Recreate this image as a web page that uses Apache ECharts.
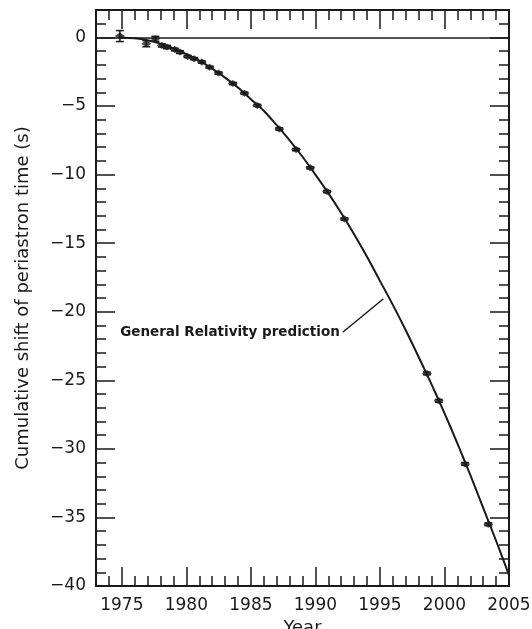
<!DOCTYPE html>
<html>
<head>
<meta charset="utf-8">
<script src="https://cdn.jsdelivr.net/npm/echarts@6/dist/echarts.min.js"></script>
<style>
html,body{margin:0;padding:0;background:#fff;}
#main{width:532px;height:629px;}
</style>
</head>
<body>
<div id="main"></div>
<script>
// measured timing points (year, shift in s, error bar half height)
var obsYears  = [1974.85, 1976.9, 1977.6, 1978.1, 1978.5, 1979.1, 1979.5, 1980.1, 1980.6, 1981.2, 1981.8, 1982.5,
                 1983.6, 1984.5, 1985.5, 1987.2, 1988.5, 1989.6, 1990.9, 1992.25, 1998.64, 1999.56, 2001.6, 2003.4];
var obsShift  = [0.1, -0.46, -0.1, -0.58, -0.7, -0.88, -1.07, -1.39, -1.55, -1.8, -2.17, -2.6,
                 -3.36, -4.07, -4.96, -6.67, -8.18, -9.51, -11.24, -13.24, -24.5, -26.5, -31.1, -35.5];
var obsErr    = [0.4, 0.22, 0.18, 0.12, 0.12, 0.1, 0.1, 0.08, 0.08, 0.08, 0.08, 0.08,
                 0.08, 0.08, 0.08, 0.08, 0.08, 0.08, 0.08, 0.08, 0.1, 0.1, 0.1, 0.1];

// general relativity prediction
var grYears = [1974.8, 1976, 1977, 1978, 1979, 1980, 1981, 1982, 1983, 1984, 1985, 1986, 1987, 1988, 1989, 1990,
               1991, 1992, 1993, 1994, 1995, 1996, 1997, 1998, 1999, 2000, 2001, 2002, 2003, 2004, 2005];
var grShift = [0, -0.06, -0.2, -0.45, -0.8, -1.22, -1.7, -2.28, -2.93, -3.65, -4.5, -5.35, -6.4, -7.5, -8.7, -10.0,
               -11.35, -12.8, -14.35, -16.0, -17.75, -19.5, -21.35, -23.3, -25.3, -27.4, -29.6, -31.9, -34.3, -36.7, -39.2];

var majorYears = [1975, 1980, 1985, 1990, 1995, 2000, 2005];
var majorShift = [-40, -35, -30, -25, -20, -15, -10, -5, 0];

var labelText = 'General Relativity prediction';
var pointerFrom = [1992.12, -21.5];
var pointerTo = [1995.25, -19.07];

var ink = '#1a1a1a';
var fontFam = 'DejaVu Sans';

function xAx(pos, major, withLabels) {
    var a = {
        type: 'value', position: pos, min: 1973, max: 2005,
        axisLine: {show: !major, onZero: false, lineStyle: {color: ink, width: 2}},
        axisTick: {show: true, inside: true, length: major ? 19 : 10, lineStyle: {color: ink, width: 1.5}},
        axisLabel: {show: false},
        splitLine: {show: false}
    };
    if (major) {
        a.axisTick.customValues = majorYears;
    } else {
        a.interval = 1;
    }
    if (withLabels) {
        a.axisLabel = {
            show: true, customValues: majorYears, color: ink, fontFamily: fontFam, fontSize: 17, margin: 11,
            formatter: function (v) { return String(v); }
        };
        a.name = 'Year';
        a.nameLocation = 'middle';
        a.nameGap = 29;
        a.nameTextStyle = {color: ink, fontFamily: fontFam, fontSize: 18};
    }
    return a;
}

function yAx(pos, major, withLabels) {
    var a = {
        type: 'value', position: pos, min: -40, max: 2,
        interval: major ? 5 : 1,
        axisLine: {show: !major, onZero: false, lineStyle: {color: ink, width: 2}},
        axisTick: {show: true, inside: true, length: major ? 19 : 10, lineStyle: {color: ink, width: 1.5}},
        axisLabel: {show: false},
        splitLine: {show: false}
    };
    if (major) {
        a.axisTick.customValues = majorShift;
    }
    if (withLabels) {
        a.axisLabel = {
            show: true, color: ink, fontFamily: fontFam, fontSize: 17, margin: 10,
            customValues: majorShift,
            formatter: function (v) {
                return v < 0 ? '\u2212' + (-v) : String(v);
            }
        };
        a.name = 'Cumulative shift of periastron time (s)';
        a.nameLocation = 'middle';
        a.nameGap = 64;
        a.nameTextStyle = {color: ink, fontFamily: fontFam, fontSize: 18};
    }
    return a;
}

var errData = [];
var obsData = [];
for (var i = 0; i < obsYears.length; i++) {
    errData.push([obsYears[i], obsShift[i] - obsErr[i], obsShift[i] + obsErr[i]]);
    obsData.push([obsYears[i], obsShift[i]]);
}
var grData = [];
for (var j = 0; j < grYears.length; j++) {
    grData.push([grYears[j], grShift[j]]);
}

var myChart = echarts.init(document.getElementById('main'));

var option = {
    backgroundColor: '#fff',
    animation: false,
    grid: {left: 96, right: 23, top: 10, bottom: 43, containLabel: false, outerBoundsMode: 'none'},
    xAxis: [xAx('bottom', false, true), xAx('bottom', true, false), xAx('top', false, false), xAx('top', true, false)],
    yAxis: [yAx('left', false, true), yAx('left', true, false), yAx('right', false, false), yAx('right', true, false)],
    series: [
        {
            name: 'GR',
            type: 'line',
            data: grData,
            smooth: 0.3,
            showSymbol: false,
            lineStyle: {color: ink, width: 2},
            z: 3,
            markLine: {
                silent: true,
                symbol: ['none', 'none'],
                label: {show: false},
                lineStyle: {color: ink, width: 1.5, type: 'solid'},
                data: [
                    {yAxis: 0},
                    [{coord: pointerFrom}, {coord: pointerTo}]
                ]
            }
        },
        {
            name: 'err',
            type: 'custom',
            data: errData,
            renderItem: function (params, api) {
                var lo = api.coord([api.value(0), api.value(1)]);
                var hi = api.coord([api.value(0), api.value(2)]);
                var w = 4;
                return {
                    type: 'group',
                    children: [
                        {type: 'line', shape: {x1: lo[0], y1: lo[1], x2: hi[0], y2: hi[1]}, style: {stroke: ink, lineWidth: 1.5}},
                        {type: 'line', shape: {x1: lo[0] - w, y1: lo[1], x2: lo[0] + w, y2: lo[1]}, style: {stroke: ink, lineWidth: 1.5}},
                        {type: 'line', shape: {x1: hi[0] - w, y1: hi[1], x2: hi[0] + w, y2: hi[1]}, style: {stroke: ink, lineWidth: 1.5}}
                    ]
                };
            },
            z: 4
        },
        {
            name: 'obs',
            type: 'scatter',
            data: obsData,
            symbol: 'diamond',
            symbolSize: [10, 7],
            itemStyle: {color: ink},
            z: 5
        }
    ]
};
myChart.setOption(option);

// annotation text placed at the pointer start
var p = myChart.convertToPixel({xAxisIndex: 0, yAxisIndex: 0}, pointerFrom);
myChart.setOption({
    graphic: [{
        type: 'text',
        x: p[0] - 3,
        y: p[1],
        style: {
            text: labelText,
            fill: ink,
            font: 'bold 13.5px "DejaVu Sans"',
            align: 'right',
            verticalAlign: 'middle'
        }
    }]
});
</script>
</body>
</html>
